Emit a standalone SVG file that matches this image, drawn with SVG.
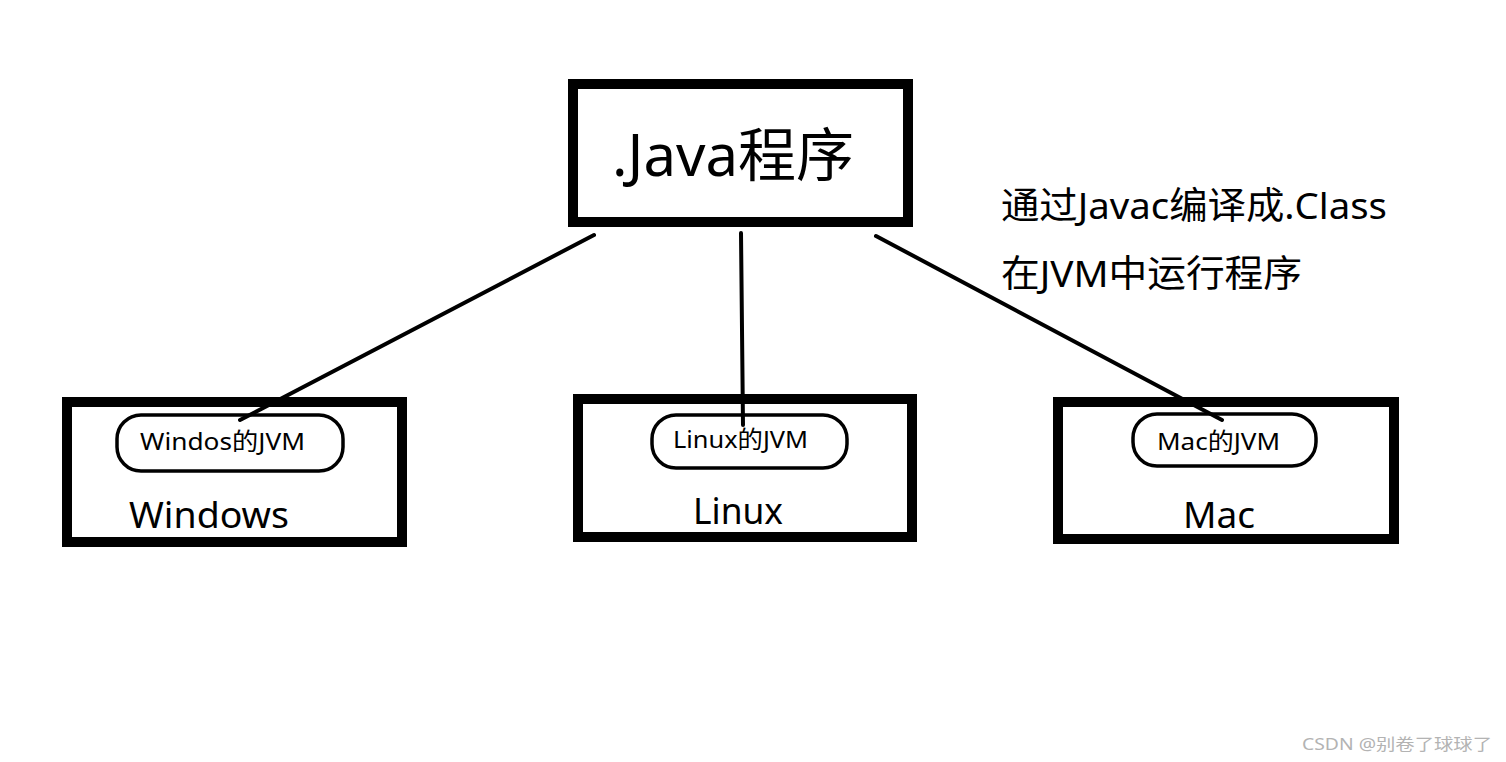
<svg xmlns="http://www.w3.org/2000/svg" width="1506" height="762" viewBox="0 0 1506 762">
<style>
.box{fill:none;stroke:#000;stroke-width:10}
.pill{fill:none;stroke:#000;stroke-width:3.5}
.con{stroke:#000;stroke-width:4;stroke-linecap:round;fill:none}
text{font-family:"Noto Sans","Noto Sans CJK SC",sans-serif;fill:#000}
.jvm{font-size:24px}
.os{font-size:37px}
.note{font-size:37px}
</style>
<rect x="0" y="0" width="1506" height="762" fill="#fff"/>
<g id="java">
<rect class="box" x="573" y="84" width="335" height="138"/>
<text x="612" y="176" font-size="58">.Java程序</text>
</g>
<g id="windows">
<rect class="box" x="67" y="402" width="335" height="140"/>
<rect class="pill" x="117" y="415" width="226" height="56" rx="24"/>
<text class="jvm" x="140" y="450" textLength="165" lengthAdjust="spacingAndGlyphs">Windos的JVM</text>
<text class="os" x="129" y="528" textLength="160" lengthAdjust="spacingAndGlyphs">Windows</text>
</g>
<g id="linux">
<rect class="box" x="578" y="399" width="334" height="138"/>
<rect class="pill" x="652" y="415" width="195" height="53" rx="24"/>
<text class="jvm" x="673" y="448" textLength="135" lengthAdjust="spacingAndGlyphs">Linux的JVM</text>
<text class="os" x="693" y="524" textLength="90" lengthAdjust="spacingAndGlyphs">Linux</text>
</g>
<g id="mac">
<rect class="box" x="1058" y="402" width="336" height="137"/>
<rect class="pill" x="1133" y="414" width="183" height="52" rx="24"/>
<text class="jvm" x="1157" y="450" textLength="123" lengthAdjust="spacingAndGlyphs">Mac的JVM</text>
<text class="os" x="1183" y="528" textLength="72" lengthAdjust="spacingAndGlyphs">Mac</text>
</g>
<g id="note">
<text class="note" x="1001" y="219" textLength="386" lengthAdjust="spacingAndGlyphs">通过Javac编译成.Class</text>
<text class="note" x="1001" y="287" textLength="301" lengthAdjust="spacingAndGlyphs">在JVM中运行程序</text>
</g>
<g id="connectors">
<line class="con" x1="594" y1="235" x2="240" y2="420"/>
<line class="con" x1="741" y1="233" x2="743" y2="425"/>
<line class="con" x1="876" y1="236" x2="1222" y2="420"/>
</g>
<text x="1302" y="750" font-size="16" fill="#b3b3b3" style="fill:#b3b3b3" textLength="190" lengthAdjust="spacingAndGlyphs">CSDN @别卷了球球了</text>
</svg>
